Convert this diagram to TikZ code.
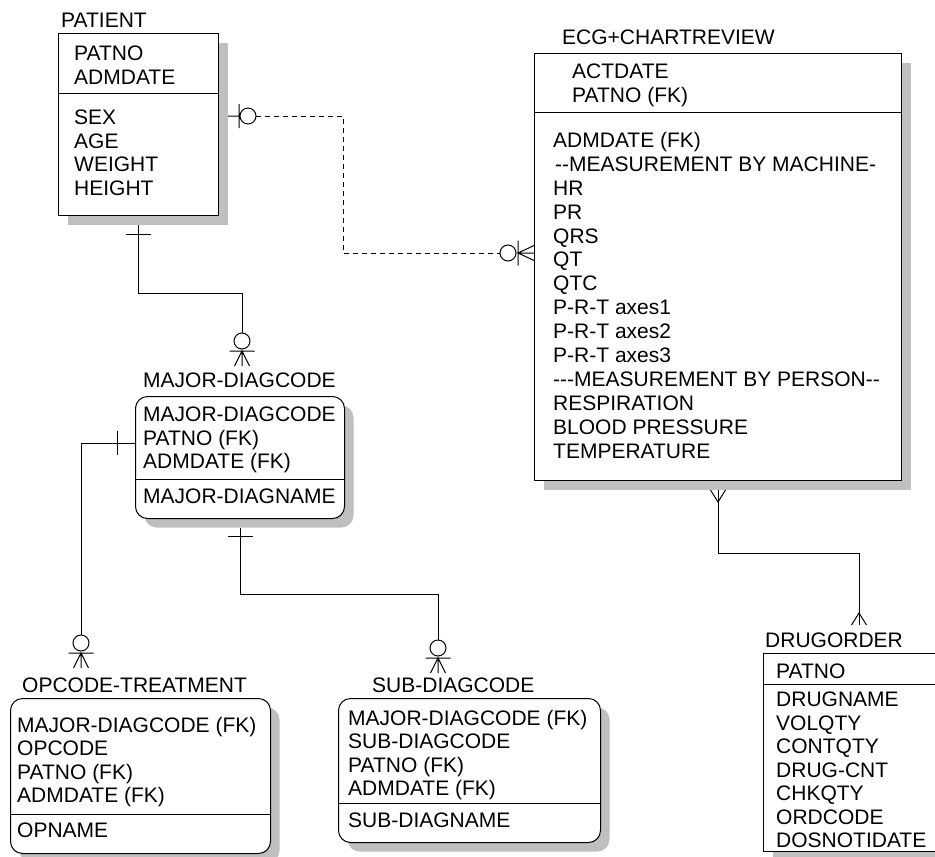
\documentclass[tikz,border=0pt]{standalone}
\usepackage{fontspec}
\setmainfont{Liberation Sans}
\usetikzlibrary{shadows,calc}

\begin{document}
\begin{tikzpicture}[x=1pt,y=-1pt]
\tikzstyle{every node}=[font=\fontsize{21}{23.5}\selectfont,inner sep=0pt]
\tikzstyle{entity}=[draw,line width=1pt,fill=white,anchor=north west,drop shadow={shadow xshift=9pt,shadow yshift=-9pt,fill=black!25,opacity=1}]
\tikzstyle{dep}=[entity,rounded corners=12pt]
\tikzstyle{txt}=[anchor=north west,align=left]
\tikzstyle{rel}=[line width=1pt]
\path[use as bounding box] (0,0) rectangle (935,857);

% entities
\node[entity,minimum width=160pt,minimum height=182pt] (pat) at (58,33) {};
\node[entity,minimum width=367pt,minimum height=427pt] (ecg) at (534,53) {};
\node[dep,minimum width=209pt,minimum height=122pt] (mdc) at (135,396) {};
\node[dep,minimum width=260pt,minimum height=155pt] (opt) at (10,698) {};
\node[dep,minimum width=262pt,minimum height=144pt] (sdc) at (338,698) {};
\node[entity,minimum width=185pt,minimum height=198pt] (drg) at (763,653) {};

\draw[rel] ($(pat.north west)+(0,60)$) -- ($(pat.north east)+(0,60)$);
\draw[rel] ($(ecg.north west)+(0,59)$) -- ($(ecg.north east)+(0,59)$);
\draw[rel] ($(mdc.north west)+(0,83)$) -- ($(mdc.north east)+(0,83)$);
\draw[rel] ($(opt.north west)+(0,116)$) -- ($(opt.north east)+(0,116)$);
\draw[rel] ($(sdc.north west)+(0,105)$) -- ($(sdc.north east)+(0,105)$);
\draw[rel] ($(drg.north west)+(0,31)$) -- ($(drg.north east)+(0,31)$);

\node[txt] (pat-t) at (61,13) {PATIENT};
\node[txt] (pat-k) at (74,46) {PATNO\\ADMDATE};
\node[txt] (pat-a) at (74,110) {SEX\\AGE\\WEIGHT\\HEIGHT};

\node[txt] (ecg-t) at (562,30) {ECG+CHARTREVIEW};
\node[txt] (ecg-k) at (572,64) {ACTDATE\\PATNO (FK)};
\node[txt,font=\fontsize{21}{23.9}\selectfont] (ecg-a) at (553,132) {ADMDATE (FK)\\\hspace*{2pt}-{}-MEASUREMENT BY MACHINE-\\HR\\PR\\QRS\\QT\\QTC\\P-R-T axes1\\P-R-T axes2\\P-R-T axes3\\-{}-{}-MEASUREMENT BY PERSON-{}-\\RESPIRATION\\BLOOD PRESSURE\\TEMPERATURE};

\node[txt] (mdc-t) at (143,373) {MAJOR-DIAGCODE};
\node[txt] (mdc-k) at (143,407) {MAJOR-DIAGCODE\\PATNO (FK)\\ADMDATE (FK)};
\node[txt] (mdc-a) at (143,489) {MAJOR-DIAGNAME};

\node[txt] (opt-t) at (22,678) {OPCODE-TREATMENT};
\node[txt] (opt-k) at (17,717) {MAJOR-DIAGCODE (FK)\\OPCODE\\PATNO (FK)\\ADMDATE (FK)};
\node[txt] (opt-a) at (17,823) {OPNAME};

\node[txt] (sdc-t) at (372,678) {SUB-DIAGCODE};
\node[txt] (sdc-k) at (348,710) {MAJOR-DIAGCODE (FK)\\SUB-DIAGCODE\\PATNO (FK)\\ADMDATE (FK)};
\node[txt] (sdc-a) at (348,813) {SUB-DIAGNAME};

\node[txt] (drg-t) at (765,633) {DRUGORDER};
\node[txt] (drg-k) at (776,664) {PATNO};
\node[txt] (drg-a) at (776,692) {DRUGNAME\\VOLQTY\\CONTQTY\\DRUG-CNT\\CHKQTY\\ORDCODE\\DOSNOTIDATE};

% relationships
\coordinate (p1) at ($(pat.north east)+(9,83)$);
\coordinate (e1) at ($(ecg.north west)+(0,200)$);
\coordinate (m1) at ($(mdc.north)+(2,-30)$);
\coordinate (o1) at ($(opt.north west)+(71,-30)$);
\coordinate (s1) at ($(sdc.north west)+(100,-25)$);
\coordinate (e2) at ($(ecg.south)+(0,9)$);
\coordinate (d1) at ($(drg.north west)+(96,-28)$);

\draw[rel] ($(pat.south)+(0,9)$) |- ($(m1)+(0,-73)$) -- ($(m1)+(0,-33)$);
\draw[rel] ($(pat.south)+(-12.5,18)$) -- ($(pat.south)+(12.5,18)$);

\draw[rel] ($(mdc.north west)+(0,47)$) -| ($(o1)+(0,-33)$);
\draw[rel] ($(mdc.north west)+(-18,35)$) -- ($(mdc.north west)+(-18,59)$);

\draw[rel] ($(mdc.south)+(0,9)$) |- ($(s1)+(0,-79)$) -- ($(s1)+(0,-33)$);
\draw[rel] ($(mdc.south)+(-12.5,17)$) -- ($(mdc.south)+(12.5,17)$);

\foreach \e in {m1,o1,s1}{
  \draw[rel] ($(\e)+(0,-25)$) circle (8pt)
    ($(\e)+(-12.5,-15)$) -- ($(\e)+(12.5,-15)$)
    ($(\e)+(-7.5,0)$) -- ($(\e)+(0,-15)$) -- ($(\e)+(7.5,0)$)
    ($(\e)+(0,-15)$) -- (\e);
}

\draw[rel] (p1) -- ($(p1)+(12,0)$) ($(p1)+(11,-12)$) -- ($(p1)+(11,12)$)
  ($(p1)+(20,0)$) circle (8pt);
\draw[rel,dash pattern=on 5pt off 4pt] ($(p1)+(28,0)$) -| ($(e1)+(-191,0)$) -- ($(e1)+(-34,0)$);
\draw[rel] ($(e1)+(-26,0)$) circle (8pt)
  ($(e1)+(-16,-12.5)$) -- ($(e1)+(-16,12.5)$)
  ($(e1)+(0,-7.5)$) -- ($(e1)+(-16,0)$) -- ($(e1)+(0,7.5)$)
  ($(e1)+(-16,0)$) -- (e1);

\draw[rel] (e2) |- ($(d1)+(0,-72)$) -- (d1);
\draw[rel] ($(e2)+(-7.5,0)$) -- ($(e2)+(0,12)$) -- ($(e2)+(7.5,0)$);
\draw[rel] ($(d1)+(-7.5,0)$) -- ($(d1)+(0,-12)$) -- ($(d1)+(7.5,0)$);
\end{tikzpicture}
\end{document}
